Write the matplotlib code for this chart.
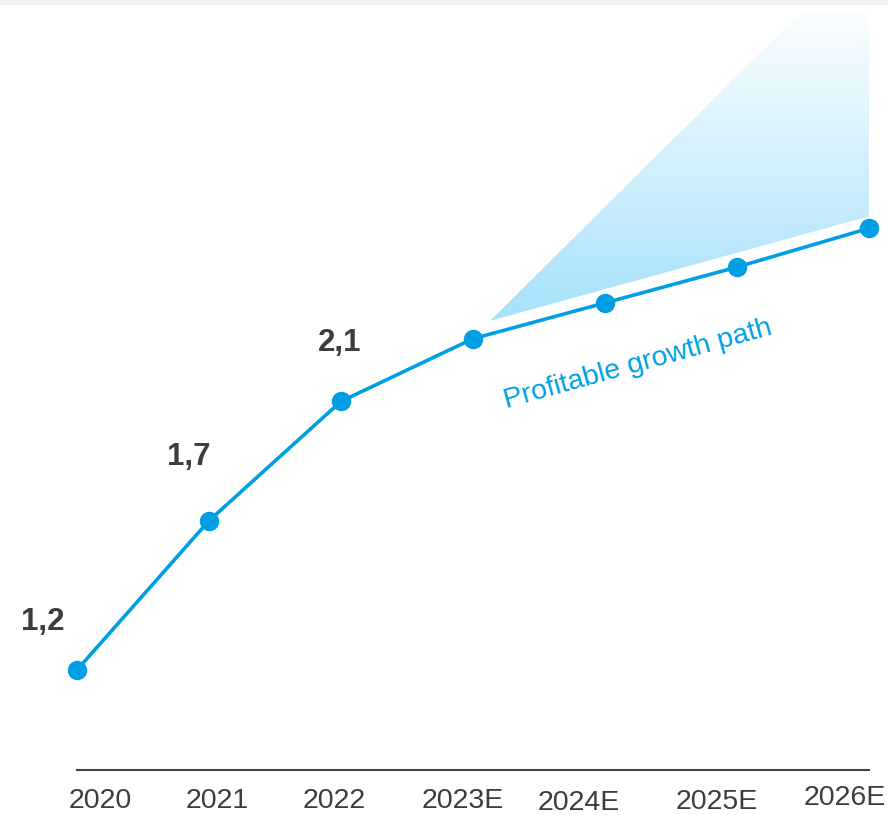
import numpy as np
import matplotlib
matplotlib.use("Agg")
import matplotlib.pyplot as plt
from matplotlib.colors import LinearSegmentedColormap
from matplotlib.patches import Polygon, Rectangle

# revenue path, actuals then estimates
years = ["2020", "2021", "2022", "2023E", "2024E", "2025E", "2026E"]
values = [1.2, 1.7, 2.1, 2.31, 2.43, 2.55, 2.68]
value_labels = ["1,2", "1,7", "2,1"]

# upside cone starting just after 2023E
cone_x = [3.13, 6.0]
cone_low = [2.37, 2.72]
cone_high = [2.37, 3.63]
cone_cap = 3.41

BLUE = "#009fe3"
DARK = "#3d3d3d"
FONT = "Liberation Sans"

fig = plt.figure(figsize=(8.88, 8.15), dpi=100)
ax = fig.add_axes([0, 0, 1, 1])
ax.set_xlim(-0.583, 6.144)
ax.set_ylim(0.714, 3.445)

x = np.arange(len(years))

# gradient filled cone, clipped to the triangle
poly = Polygon([(cone_x[0], cone_low[0]), (cone_x[1], cone_low[1]),
                (cone_x[1], cone_high[1])], closed=True,
               facecolor="none", edgecolor="none")
ax.add_patch(poly)
cmap = LinearSegmentedColormap.from_list("cone", ["#a5e1fb", "#d2f0fd", "#fcfeff"])
grad = np.linspace(0, 1, 256).reshape(-1, 1)
img = ax.imshow(grad, cmap=cmap, aspect="auto", origin="lower",
                extent=[cone_x[0], cone_x[1], cone_low[0], cone_cap],
                zorder=1)
img.set_clip_path(poly)

ax.plot(x, values, color=BLUE, lw=2.6, marker="o", markersize=13,
        zorder=3, solid_capstyle="round")

# value labels above the actual years
label_offsets = [(-34, 48), (-20, 64), (-1, 58)]
for i, (lab, off) in enumerate(zip(value_labels, label_offsets)):
    ax.annotate(lab, (x[i], values[i]), xytext=(off[0] * 0.72, off[1] * 0.72),
                textcoords="offset points", ha="center", va="center",
                fontsize=22.5, fontweight="bold", color=DARK, family=FONT)

ax.text(4.25, 2.225, "Profitable growth path", rotation=15.5,
        ha="center", va="center", fontsize=20.5, color=BLUE, family=FONT,
        rotation_mode="anchor")

# year labels sit a little off their points
tick_dx = [0.18, 0.06, -0.05, -0.08, -0.2, -0.15, -0.18]
tick_y = [801, 801, 801, 801, 803, 802, 798]
for i, yr in enumerate(years):
    ax.text(x[i] + tick_dx[i], 1 - tick_y[i] / 815, yr,
            transform=ax.get_xaxis_transform(), ha="center", va="center",
            fontsize=20.5, color=DARK, family=FONT)

for s in ["top", "right", "left"]:
    ax.spines[s].set_visible(False)
ax.spines["bottom"].set_position(("data", 0.865))
ax.spines["bottom"].set_bounds(0, 6)
ax.spines["bottom"].set_color("#444444")
ax.spines["bottom"].set_linewidth(1.5)
ax.set_xticks([])
ax.set_yticks([])
ax.patch.set_visible(False)

# thin grey strip along the top edge
fig.patches.append(Rectangle((0, 1 - 5 / 815), 1, 5 / 815,
                             transform=fig.transFigure, facecolor="#f4f3f1",
                             edgecolor="none", zorder=0))

fig.savefig("out.png", dpi=100, facecolor="white")
